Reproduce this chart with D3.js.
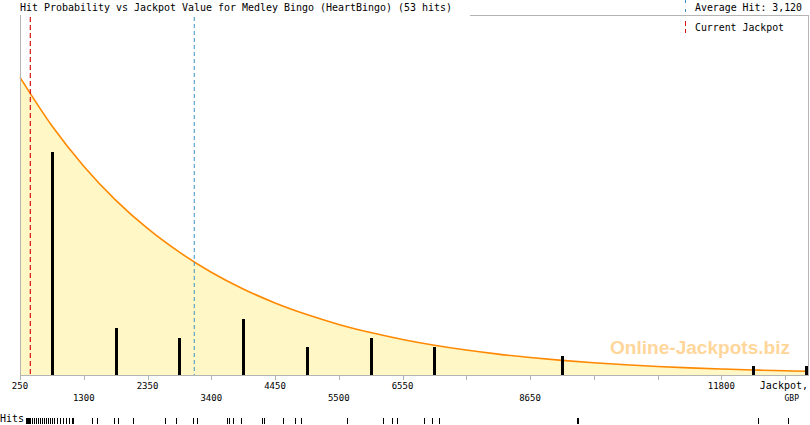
<!DOCTYPE html>
<html>
<head>
<meta charset="utf-8">
<script src="https://cdn.jsdelivr.net/npm/d3@7"></script>
<style>
  body { margin: 0; background: #fff; }
  text { font-family: "DejaVu Sans Mono", monospace; fill: #000; }
</style>
</head>
<body>
<svg id="chart" width="810" height="425"></svg>
<script>
// Medley Bingo (HeartBingo) - hit probability vs jackpot value

// histogram of hits, one bar per 1050 GBP bin
const binCenters = [775, 1825, 2875, 3925, 4975, 6025, 7075, 9175, 12325, 13190];
const binCounts = [24, 5, 4, 6, 3, 4, 3, 2, 1, 1];

const hits = [
  349, 365, 382, 398, 415, 448, 481, 514, 546, 579, 612, 645,
  678, 711, 744, 777, 810, 859, 909, 958, 1008, 1057, 1106, 1123,
  1436, 1518, 1798, 1864, 2111,
  2638, 2819, 3099, 3165,
  3659, 3692, 3758, 3890, 4236, 4269,
  4581, 4779, 4878,
  5636, 6229, 6377, 6459,
  6904, 7036, 7151,
  9424, 9441,
  12405, 12899
];

// fitted probability curve (same units as the bars)
const curveJackpot = [250, 775, 1300, 1825, 2350, 2875, 3400, 3925, 4450, 4975,
  5500, 6025, 6550, 7075, 7600, 8125, 8650, 9175, 9700, 10225, 10750, 11275,
  11800, 12325, 12850, 13228];
const curveLevel = [32.0, 26.8, 22.45, 18.8, 15.75, 13.2, 11.05, 9.25, 7.75, 6.5,
  5.44, 4.56, 3.82, 3.2, 2.68, 2.24, 1.88, 1.57, 1.32, 1.1, 0.92, 0.77,
  0.65, 0.54, 0.45, 0.4];

const tickValues = [250, 1300, 2350, 3400, 4450, 5500, 6550, 7600, 8650, 9700, 10750, 11800, 12850];
const labelsTop = [250, 2350, 4450, 6550, 11800];
const labelsBottom = [1300, 3400, 5500, 8650];

const averageHit = 3120;
const currentJackpot = 420;

const svg = d3.select("#chart");

const plot = { left: 20, right: 808, top: 15, bottom: 375 };

const x = d3.scaleLinear().domain([250, 13228]).range([plot.left, plot.right]);
const y = d3.scaleLinear().domain([0, 38.7]).range([plot.bottom, plot.top]);

const curveData = curveJackpot.map((j, i) => ({ j, v: curveLevel[i] }));

// filled area under the curve
svg.append("path")
  .datum(curveData)
  .attr("fill", "#fff8c6")
  .attr("d", d3.area()
    .x((d) => x(d.j))
    .y0(plot.bottom)
    .y1((d) => y(d.v))
    .curve(d3.curveMonotoneX));

// watermark
svg.append("text")
  .attr("x", 610)
  .attr("y", 354)
  .attr("textLength", 180)
  .attr("lengthAdjust", "spacingAndGlyphs")
  .style("font-family", "'Liberation Sans', Arial, sans-serif")
  .style("font-weight", "bold")
  .style("font-size", "19px")
  .style("fill", "#ffd69a")
  .text("Online-Jackpots.biz");

// curve
svg.append("path")
  .datum(curveData)
  .attr("fill", "none")
  .attr("stroke", "#ff8800")
  .attr("stroke-width", 1.6)
  .attr("d", d3.line()
    .x((d) => x(d.j))
    .y((d) => y(d.v))
    .curve(d3.curveMonotoneX));

// frame
const frame = svg.append("g")
  .attr("stroke", "#b4b4b4")
  .attr("shape-rendering", "crispEdges");
frame.append("line").attr("x1", plot.left + 0.5).attr("x2", plot.left + 0.5).attr("y1", plot.top).attr("y2", plot.bottom);
frame.append("line").attr("x1", plot.right + 0.5).attr("x2", plot.right + 0.5).attr("y1", plot.top).attr("y2", plot.bottom);
frame.append("line").attr("x1", 470).attr("x2", plot.right + 1).attr("y1", plot.top + 0.5).attr("y2", plot.top + 0.5);

// bottom axis
const xAxis = svg.append("g")
  .attr("transform", `translate(0,${plot.bottom})`)
  .call(d3.axisBottom(x).tickValues(tickValues).tickSize(5).tickSizeOuter(0).tickFormat(""));
xAxis.select(".domain").attr("stroke", "#b4b4b4").attr("shape-rendering", "crispEdges");
xAxis.selectAll(".tick line").attr("stroke", "#b4b4b4").attr("shape-rendering", "crispEdges");

svg.selectAll(".lab-top")
  .data(labelsTop)
  .enter()
  .append("text")
  .attr("x", (d) => x(d))
  .attr("y", 389)
  .attr("text-anchor", "middle")
  .style("font-size", "9px")
  .text((d) => d);

svg.selectAll(".lab-bottom")
  .data(labelsBottom)
  .enter()
  .append("text")
  .attr("x", (d) => x(d))
  .attr("y", 401)
  .attr("text-anchor", "middle")
  .style("font-size", "9px")
  .text((d) => d);

svg.append("text")
  .attr("x", 808)
  .attr("y", 389)
  .attr("text-anchor", "end")
  .style("font-size", "10px")
  .text("Jackpot,");
svg.append("text")
  .attr("x", 799)
  .attr("y", 401)
  .attr("text-anchor", "end")
  .style("font-size", "8px")
  .text("GBP");

// hit count bars
svg.selectAll(".bar")
  .data(binCenters)
  .enter()
  .append("rect")
  .attr("x", (d) => Math.round(x(d)) - 1)
  .attr("y", (d, i) => Math.round(y(binCounts[i])))
  .attr("width", 3)
  .attr("height", (d, i) => plot.bottom - Math.round(y(binCounts[i])))
  .attr("fill", "#000")
  .attr("shape-rendering", "crispEdges");

// average hit / current jackpot markers
svg.append("line")
  .attr("x1", x(averageHit)).attr("x2", x(averageHit))
  .attr("y1", plot.top + 2).attr("y2", plot.bottom)
  .attr("stroke", "#3b8ec2")
  .attr("stroke-width", 1)
  .attr("stroke-dasharray", "4,3");
svg.append("line")
  .attr("x1", x(currentJackpot)).attr("x2", x(currentJackpot))
  .attr("y1", plot.top + 2).attr("y2", plot.bottom)
  .attr("stroke", "#dd1111")
  .attr("stroke-width", 1.2)
  .attr("stroke-dasharray", "5,3");

// title
svg.append("text")
  .attr("x", 20)
  .attr("y", 11)
  .attr("textLength", 432)
  .attr("lengthAdjust", "spacingAndGlyphs")
  .style("font-size", "10px")
  .text("Hit Probability vs Jackpot Value for Medley Bingo (HeartBingo) (53 hits)");

// legend
svg.append("line")
  .attr("x1", 685.5).attr("x2", 685.5).attr("y1", 0).attr("y2", 12)
  .attr("stroke", "#3b8ec2").attr("stroke-dasharray", "3,6");
svg.append("text")
  .attr("x", 695).attr("y", 11)
  .attr("textLength", 107)
  .attr("lengthAdjust", "spacingAndGlyphs")
  .style("font-size", "10px")
  .text("Average Hit: 3,120");
svg.append("line")
  .attr("x1", 685.5).attr("x2", 685.5).attr("y1", 21).attr("y2", 33)
  .attr("stroke", "#dd1111").attr("stroke-dasharray", "5,3");
svg.append("text")
  .attr("x", 695).attr("y", 31)
  .attr("textLength", 89)
  .attr("lengthAdjust", "spacingAndGlyphs")
  .style("font-size", "10px")
  .text("Current Jackpot");

// hits rug
svg.append("text")
  .attr("x", 0)
  .attr("y", 422)
  .attr("textLength", 24)
  .attr("lengthAdjust", "spacingAndGlyphs")
  .style("font-size", "10px")
  .text("Hits");
svg.selectAll(".rug")
  .data(hits)
  .enter()
  .append("line")
  .attr("x1", (d) => Math.round(x(d)) + 0.5)
  .attr("x2", (d) => Math.round(x(d)) + 0.5)
  .attr("y1", 418)
  .attr("y2", 424)
  .attr("stroke", "#000")
  .attr("shape-rendering", "crispEdges");
</script>
</body>
</html>
